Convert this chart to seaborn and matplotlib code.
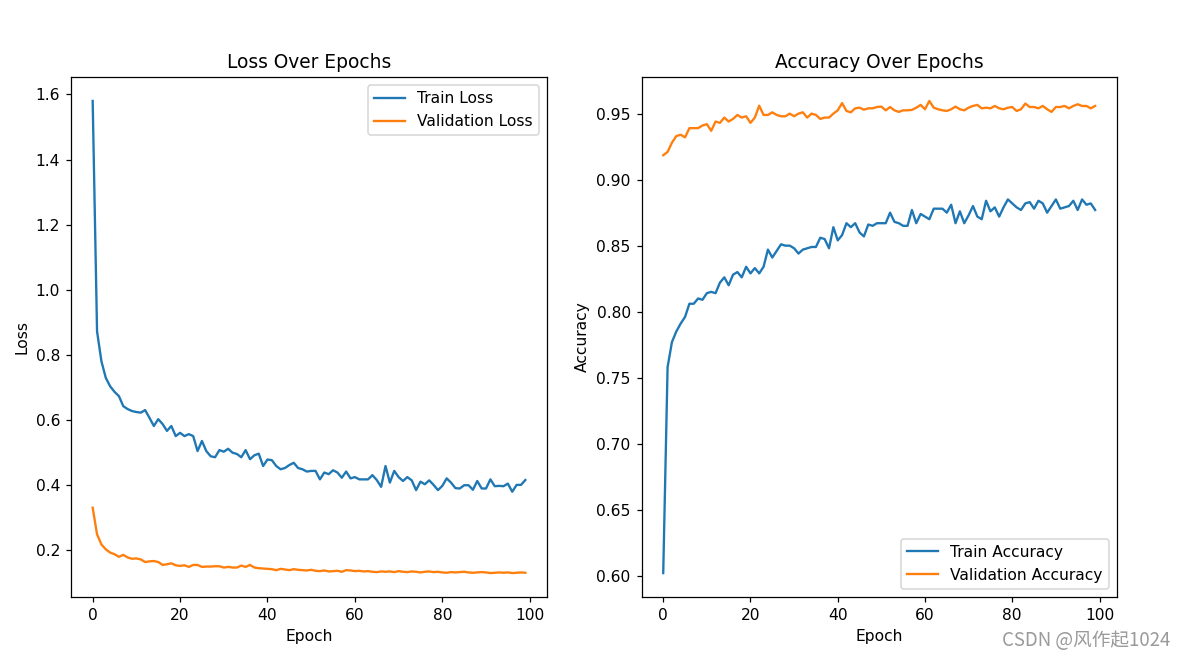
import numpy as np
import pandas as pd
import matplotlib
matplotlib.use("Agg")
import matplotlib.pyplot as plt
import seaborn as sns

epochs = list(range(100))

train_loss = [
    1.58, 0.872, 0.78, 0.729, 0.703, 0.686, 0.673, 0.642, 0.633, 0.627,
    0.624, 0.622, 0.630, 0.606, 0.581, 0.602, 0.587, 0.566, 0.581, 0.550,
    0.560, 0.550, 0.556, 0.550, 0.504, 0.535, 0.504, 0.488, 0.485, 0.507,
    0.502, 0.511, 0.499, 0.495, 0.485, 0.507, 0.479, 0.491, 0.496, 0.458,
    0.478, 0.476, 0.458, 0.448, 0.452, 0.461, 0.468, 0.452, 0.448, 0.441,
    0.443, 0.443, 0.417, 0.438, 0.433, 0.445, 0.438, 0.422, 0.441, 0.420,
    0.424, 0.417, 0.417, 0.417, 0.430, 0.415, 0.394, 0.458, 0.407, 0.443,
    0.424, 0.412, 0.424, 0.414, 0.384, 0.410, 0.402, 0.414, 0.400, 0.384,
    0.397, 0.420, 0.407, 0.390, 0.389, 0.399, 0.399, 0.385, 0.412, 0.389,
    0.389, 0.417, 0.396, 0.397, 0.396, 0.404, 0.379, 0.400, 0.400, 0.415,
]

val_loss = [
    0.330, 0.248, 0.217, 0.202, 0.192, 0.187, 0.179, 0.185, 0.177, 0.173,
    0.174, 0.171, 0.163, 0.165, 0.166, 0.163, 0.154, 0.156, 0.159, 0.153,
    0.151, 0.153, 0.148, 0.154, 0.154, 0.148, 0.149, 0.149, 0.150, 0.150,
    0.146, 0.148, 0.146, 0.146, 0.152, 0.148, 0.154, 0.146, 0.144, 0.143,
    0.142, 0.141, 0.138, 0.142, 0.140, 0.138, 0.141, 0.139, 0.138, 0.137,
    0.139, 0.136, 0.135, 0.137, 0.134, 0.135, 0.136, 0.133, 0.138, 0.137,
    0.135, 0.136, 0.134, 0.135, 0.133, 0.132, 0.134, 0.133, 0.134, 0.132,
    0.135, 0.133, 0.132, 0.134, 0.133, 0.131, 0.133, 0.134, 0.132, 0.133,
    0.131, 0.130, 0.132, 0.131, 0.132, 0.133, 0.131, 0.130, 0.131, 0.132,
    0.131, 0.129, 0.130, 0.131, 0.130, 0.131, 0.129, 0.130, 0.131, 0.130,
]

train_acc = [
    0.602, 0.758, 0.777, 0.785, 0.791, 0.796, 0.806, 0.806, 0.810, 0.809,
    0.814, 0.815, 0.814, 0.822, 0.826, 0.820, 0.828, 0.830, 0.826, 0.834,
    0.829, 0.833, 0.829, 0.834, 0.847, 0.841, 0.846, 0.851, 0.850, 0.850,
    0.848, 0.844, 0.847, 0.848, 0.849, 0.849, 0.856, 0.855, 0.848, 0.864,
    0.854, 0.858, 0.867, 0.864, 0.867, 0.860, 0.857, 0.866, 0.865, 0.867,
    0.867, 0.867, 0.875, 0.868, 0.867, 0.865, 0.865, 0.877, 0.867, 0.874,
    0.872, 0.870, 0.878, 0.878, 0.878, 0.875, 0.881, 0.867, 0.876, 0.867,
    0.873, 0.880, 0.872, 0.870, 0.884, 0.876, 0.879, 0.872, 0.879, 0.885,
    0.882, 0.879, 0.877, 0.882, 0.883, 0.878, 0.884, 0.882, 0.875, 0.880,
    0.885, 0.878, 0.879, 0.880, 0.884, 0.877, 0.885, 0.881, 0.882, 0.877,
]

val_acc = [
    0.9185, 0.921, 0.928, 0.933, 0.934, 0.932, 0.939, 0.939, 0.939, 0.941,
    0.942, 0.937, 0.944, 0.943, 0.947, 0.944, 0.946, 0.949, 0.947, 0.948,
    0.943, 0.947, 0.956, 0.949, 0.949, 0.951, 0.949, 0.948, 0.948, 0.950,
    0.948, 0.950, 0.951, 0.947, 0.950, 0.949, 0.946, 0.947, 0.947, 0.950,
    0.9525, 0.958, 0.952, 0.951, 0.954, 0.9545, 0.953, 0.954, 0.954, 0.955,
    0.9553, 0.9525, 0.9550, 0.9525, 0.9513, 0.9525, 0.9525, 0.9528, 0.9545, 0.9566,
    0.9533, 0.9596, 0.9545, 0.9533, 0.9525, 0.9520, 0.9533, 0.9553, 0.9533, 0.9525,
    0.9545, 0.9558, 0.9566, 0.9540, 0.9545, 0.9540, 0.9558, 0.9540, 0.9533, 0.9545,
    0.9550, 0.9520, 0.9533, 0.9576, 0.9550, 0.9550, 0.9540, 0.9558, 0.9533, 0.9513,
    0.9550, 0.9550, 0.9558, 0.9540, 0.9558, 0.9571, 0.9558, 0.9558, 0.9540, 0.9558,
]

DPI = 112
fig, axes = plt.subplots(1, 2, figsize=(1186 / DPI, 661 / DPI), dpi=DPI)
axes[0].set_position([0.0599, 0.0973, 0.4612 - 0.0599, 0.883 - 0.0973])
axes[1].set_position([0.541, 0.0973, 0.9416 - 0.541, 0.883 - 0.0973])

ax = axes[0]
sns.lineplot(x=epochs, y=train_loss, ax=ax, label="Train Loss", color="#1f77b4")
sns.lineplot(x=epochs, y=val_loss, ax=ax, label="Validation Loss", color="#ff7f0e")
ax.set_title("Loss Over Epochs")
ax.set_xlabel("Epoch")
ax.set_ylabel("Loss")
ax.legend(loc="upper right")

ax = axes[1]
sns.lineplot(x=epochs, y=train_acc, ax=ax, label="Train Accuracy", color="#1f77b4")
sns.lineplot(x=epochs, y=val_acc, ax=ax, label="Validation Accuracy", color="#ff7f0e")
ax.set_title("Accuracy Over Epochs")
ax.set_xlabel("Epoch")
ax.set_ylabel("Accuracy")
ax.legend(loc="lower right")

fig.text(0.987, 0.015, "CSDN @风作起1024", ha="right", va="bottom",
         fontsize=12, color="#9a9a9a",
         family=["Noto Sans CJK SC", "DejaVu Sans"])

fig.savefig("out.png", dpi=DPI)
